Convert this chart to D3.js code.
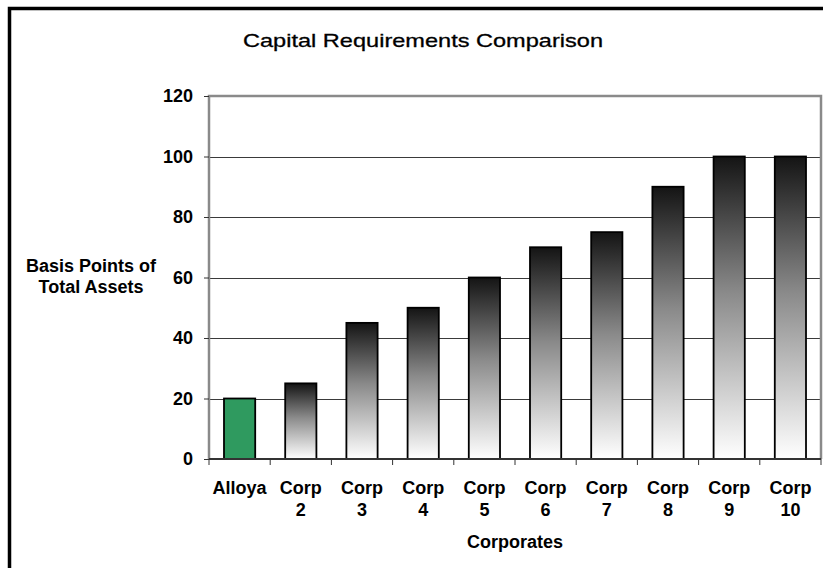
<!DOCTYPE html>
<html>
<head>
<meta charset="utf-8">
<script src="https://cdn.jsdelivr.net/npm/d3@7"></script>
<style>
  html, body { margin: 0; padding: 0; background: #fff; }
  svg { display: block; font-family: Arial, "Liberation Sans", Helvetica, sans-serif; }
</style>
</head>
<body>
<svg id="chart" width="823" height="568"></svg>
<script>
// Chart data
const categories = ["Alloya", "Corp 2", "Corp 3", "Corp 4", "Corp 5", "Corp 6", "Corp 7", "Corp 8", "Corp 9", "Corp 10"];
const values = [20, 25, 45, 50, 60, 70, 75, 90, 100, 100];
const yTicks = [0, 20, 40, 60, 80, 100, 120];
const title = "Capital Requirements Comparison";
const yTitle = ["Basis Points of", "Total Assets"];
const xTitle = "Corporates";

const svg = d3.select("#chart");
const W = 823, H = 568;
const plot = { left: 209, top: 96, right: 821, bottom: 459 };

// Outer frame (top and left edges visible)
svg.append("path")
  .attr("d", `M9.5,${H} V8.5 H${W}`)
  .attr("fill", "none").attr("stroke", "#000").attr("stroke-width", 3.5);

const x = d3.scaleBand().domain(categories).range([plot.left, plot.right]).padding(0);
const y = d3.scaleLinear().domain([0, 120]).range([plot.bottom, plot.top]);

// Gradient for the comparison bars: dark at top fading to white
const defs = svg.append("defs");
const grad = defs.append("linearGradient")
  .attr("id", "barGrad").attr("x1", 0).attr("y1", 0).attr("x2", 0).attr("y2", 1);
grad.append("stop").attr("offset", "0%").attr("stop-color", "#141414");
grad.append("stop").attr("offset", "45%").attr("stop-color", "#8a8a8a");
grad.append("stop").attr("offset", "100%").attr("stop-color", "#ffffff");

// Gridlines
svg.append("g").selectAll("line")
  .data(yTicks.filter(t => t > 0 && t < 120))
  .join("line")
  .attr("x1", plot.left).attr("x2", plot.right)
  .attr("y1", d => Math.round(y(d)) + 0.5).attr("y2", d => Math.round(y(d)) + 0.5)
  .attr("stroke", "#3a3a3a").attr("stroke-width", 1);

// Plot area border (left, top, right)
svg.append("path")
  .attr("d", `M${plot.left},${plot.bottom} V${plot.top} H${plot.right} V${plot.bottom}`)
  .attr("fill", "none").attr("stroke", "#8a8a8a").attr("stroke-width", 2.5);

// Bars
const barW = x.bandwidth() * 0.51;
svg.append("g").selectAll("rect")
  .data(categories.map((c, i) => ({ c, v: values[i], i })))
  .join("rect")
  .attr("x", d => x(d.c) + (x.bandwidth() - barW) / 2)
  .attr("y", d => y(d.v))
  .attr("width", barW)
  .attr("height", d => y(0) - y(d.v))
  .attr("fill", d => d.i === 0 ? "#2f9a5f" : "url(#barGrad)")
  .attr("stroke", "#000").attr("stroke-width", 1.8);

// Y axis
const yAxis = d3.axisLeft(y).tickValues(yTicks).tickSize(5).tickPadding(11);
const gy = svg.append("g").attr("transform", `translate(${plot.left},0)`).call(yAxis);
gy.select(".domain").remove();
gy.selectAll(".tick line").attr("stroke", "#333");
gy.selectAll(".tick text")
  .attr("font-size", 18).attr("font-weight", "bold").attr("fill", "#000")
  .attr("font-family", "Arial, 'Liberation Sans', sans-serif");

// X axis
const xAxis = d3.axisBottom(x).tickSize(0).tickFormat("");
const gx = svg.append("g").attr("transform", `translate(0,${plot.bottom})`).call(xAxis);
gx.select(".domain").attr("stroke", "#333").attr("stroke-width", 2)
  .attr("d", `M${plot.left},0H${plot.right}`);
gx.selectAll(".tick").remove();
// category separators below the axis
const boundaries = d3.range(categories.length + 1).map(i => plot.left + i * x.step());
gx.selectAll("line.sep").data(boundaries).join("line").attr("class", "sep")
  .attr("x1", d => d).attr("x2", d => d).attr("y1", 0).attr("y2", 6)
  .attr("stroke", "#333").attr("stroke-width", 1);

// Category labels (split onto two lines)
const lab = svg.append("g").attr("font-size", 18).attr("font-weight", "bold")
  .attr("text-anchor", "middle").attr("fill", "#000");
categories.forEach(c => {
  const parts = c.split(" ");
  const t = lab.append("text").attr("x", x(c) + x.bandwidth() / 2).attr("y", 494);
  parts.forEach((p, j) => {
    t.append("tspan").attr("x", x(c) + x.bandwidth() / 2).attr("dy", j === 0 ? 0 : 22).text(p);
  });
});

// Titles
svg.append("text").attr("x", 423).attr("y", 47).attr("text-anchor", "middle")
  .attr("font-size", 19).attr("fill", "#000")
  .attr("stroke", "#000").attr("stroke-width", 0.3)
  .attr("textLength", 360).attr("lengthAdjust", "spacingAndGlyphs")
  .text(title);

svg.append("text").attr("x", (plot.left + plot.right) / 2).attr("y", 548)
  .attr("text-anchor", "middle").attr("font-size", 18).attr("font-weight", "bold")
  .attr("fill", "#000").text(xTitle);

const yt = svg.append("text").attr("text-anchor", "middle").attr("font-size", 18)
  .attr("font-weight", "bold").attr("fill", "#000");
yTitle.forEach((s, j) => {
  yt.append("tspan").attr("x", 91).attr("y", 272 + j * 21).text(s);
});
</script>
</body>
</html>
